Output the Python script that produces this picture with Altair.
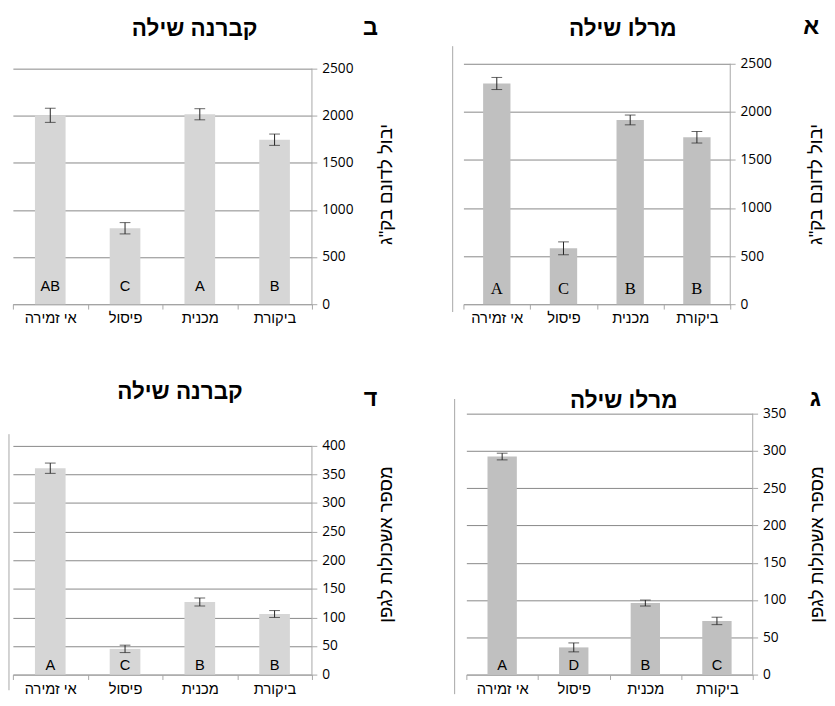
import altair as alt
import pandas as pd

categories = ["אי זמירה", "פיסול", "מכנית", "ביקורת"]

merlot_yield = [2295, 581, 1916, 1736]
merlot_yield_err = [63, 67, 51, 60]
merlot_yield_letters = ["A", "C", "B", "B"]

cab_yield = [2005, 806, 2016, 1746]
cab_yield_err = [75, 60, 59, 60]
cab_yield_letters = ["AB", "C", "A", "B"]

merlot_clusters = [292.5, 36.5, 96, 72]
merlot_clusters_err = [4.5, 6, 4, 5]
merlot_clusters_letters = ["A", "D", "B", "C"]

cab_clusters = [361, 45, 127, 106]
cab_clusters_err = [9, 6.5, 7, 6]
cab_clusters_letters = ["A", "C", "B", "B"]

yield_title = 'יבול לדונם בק"ג'
clusters_title = "מספר אשכולות לגפן"
merlot_name = "מרלו שילה"
cab_name = "קברנה שילה"

HEB = "Liberation Sans, DejaVu Sans, sans-serif"
NUM = "Open Sans, DejaVu Sans, sans-serif"
GRID = "#868686"
AXC = "#a6a6a6"


def panel(values, errs, letters, W, H, dom_max, tick_max, step, fill,
          letter_font, letter_size, letter_off, name, name_xy, tag, tag_xy,
          ytitle, title_pad, left_line=None):
    df = pd.DataFrame({
        "cat": categories,
        "val": values,
        "lo": [v - e for v, e in zip(values, errs)],
        "hi": [v + e for v, e in zip(values, errs)],
        "lab": letters,
    })
    ticks = list(range(0, tick_max + 1, step))
    xs = alt.Scale(paddingInner=0, paddingOuter=0)
    ys = alt.Scale(domain=[0, dom_max], nice=False, zero=True)
    xaxis = alt.Axis(title=None, orient="bottom", tickBand="extent",
                     labelAngle=0, tickSize=5, tickColor=AXC,
                     domainColor=AXC, labelFont=HEB, labelFontSize=15,
                     labelColor="#000", labelPadding=2, grid=False)
    yaxis = alt.Axis(orient="right", values=ticks, format="d",
                     grid=True, gridColor=GRID, domain=False,
                     tickSize=5, tickColor=AXC, labelFont=NUM,
                     labelFontSize=14, labelColor="#000",
                     labelPadding=5, title=ytitle, titleAngle=270,
                     titleBaseline="top", titleFont=HEB,
                     titleFontSize=19, titleFontWeight="normal",
                     titleColor="#000", titlePadding=title_pad)
    xe = alt.X("cat:N", sort=categories, scale=xs, axis=xaxis)
    base = alt.Chart(df)
    bars = base.mark_bar(width=alt.RelativeBandSize(0.41), color=fill).encode(
        x=xe, y=alt.Y("val:Q", scale=ys, axis=yaxis))
    err = base.mark_rule(color="#222", strokeWidth=1).encode(
        x=xe, y=alt.Y("lo:Q", scale=ys, axis=yaxis), y2="hi:Q")
    cap_lo = base.mark_tick(color="#222", thickness=1, size=11).encode(
        x=xe, y=alt.Y("lo:Q", scale=ys, axis=yaxis))
    cap_hi = base.mark_tick(color="#222", thickness=1, size=11).encode(
        x=xe, y=alt.Y("hi:Q", scale=ys, axis=yaxis))
    labs = base.mark_text(font=letter_font, fontSize=letter_size, color="#000",
                          baseline="middle").encode(
        x=xe, y=alt.value(H - letter_off), text="lab:N")
    adf = pd.DataFrame({"a0": [0], "a1": [tick_max]})
    axis_line = alt.Chart(adf).mark_rule(color=AXC, strokeWidth=1).encode(
        x=alt.value(W), y=alt.Y("a0:Q", scale=ys, axis=yaxis), y2="a1:Q")
    tdf = pd.DataFrame({"t": [name], "g": [tag]})
    tchart = alt.Chart(tdf)
    ttl = tchart.mark_text(font=HEB, fontSize=23, fontWeight="bold",
                           color="#000", baseline="middle").encode(
        x=alt.value(name_xy[0]), y=alt.value(name_xy[1]), text="t:N")
    tg = tchart.mark_text(font=HEB, fontSize=24, fontWeight="bold",
                          color="#000", baseline="middle").encode(
        x=alt.value(tag_xy[0]), y=alt.value(tag_xy[1]), text="g:N")
    layers = [bars, axis_line, err, cap_lo, cap_hi, labs, ttl, tg]
    if left_line is not None:
        ll = tchart.mark_rule(color=AXC, strokeWidth=1).encode(
            x=alt.value(left_line[0]), y=alt.value(left_line[1]),
            y2=alt.value(left_line[2]))
        layers.append(ll)
    return alt.layer(*layers).properties(width=W, height=H)


MERLOT_FILL = "#c0c0c0"
CAB_FILL = "#d6d6d6"

pB = panel(cab_yield, cab_yield_err, cab_yield_letters, 306, 246,
           2500 * 246 / 241, 2500, 500, CAB_FILL, HEB, 15, 18,
           cab_name, (186, -35), "ב", (366, -36), yield_title, 24)
pA = panel(merlot_yield, merlot_yield_err, merlot_yield_letters, 273, 246,
           2500, 2500, 500, MERLOT_FILL, "Liberation Serif, serif", 17, 15,
           merlot_name, (163, -35), "א", (356, -37), yield_title, 36,
           left_line=(-11, -18, 254))
pD = panel(cab_clusters, cab_clusters_err, cab_clusters_letters, 306, 267,
           400 * 267 / 234, 400, 50, CAB_FILL, HEB, 15, 10,
           cab_name, (171, -22), "ד", (366, -15), clusters_title, 32,
           left_line=(-4, 21, 283))
pC = panel(merlot_clusters, merlot_clusters_err, merlot_clusters_letters, 293, 267,
           350, 350, 50, MERLOT_FILL, HEB, 15, 10,
           merlot_name, (161, -13), "ג", (357, -15), clusters_title, 22,
           left_line=(-12, -15, 287))

top = alt.hconcat(pB, pA, spacing=57)
bottom = alt.hconcat(pD, pC, spacing=59)
chart = alt.vconcat(top, bottom, spacing=57).properties(
    padding=0, background="white"
).configure_view(stroke=None)

chart.save("out.html", embed_options={"renderer": "svg", "actions": False})
